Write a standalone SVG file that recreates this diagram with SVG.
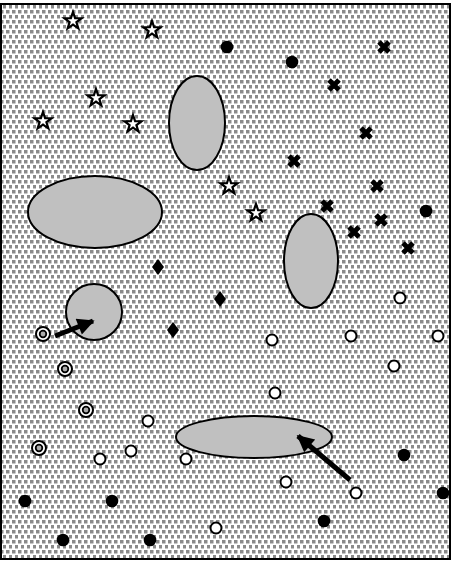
<svg xmlns="http://www.w3.org/2000/svg" width="453" height="561" viewBox="0 0 453 561">
<style>
.blob{fill:#c0c0c0;stroke:#000;stroke-width:2}
.star{fill:#fff;stroke:#000;stroke-width:2.2;stroke-linejoin:miter}
.dot{fill:#000}
.wc{fill:#fff;stroke:#000;stroke-width:2}
.x{stroke:#000;stroke-width:5;stroke-linecap:butt}
.dia{fill:#000}
.ro{fill:#fff;stroke:#000;stroke-width:2}
.ri{fill:#aaa;stroke:#000;stroke-width:1.8}
.arr{stroke:#000;stroke-width:5;fill:none}
</style>
<defs>
<pattern id="bg" width="6" height="10" patternUnits="userSpaceOnUse">
<rect width="6" height="10" fill="#fff"/>
<rect x="0" y="0" width="3.5" height="3.5" fill="#8a8a8a"/>
<rect x="3" y="5" width="3.5" height="3.5" fill="#8a8a8a"/>
</pattern>
<polygon id="st" points="0,-9 2.1,-2.9 8.6,-2.8 3.4,1.1 5.3,7.3 0,3.6 -5.3,7.3 -3.4,1.1 -8.6,-2.8 -2.1,-2.9"/>
<path id="xx" d="M-5,-5L5,5M5,-5L-5,5"/>
<polygon id="dm" points="0,-8 6,0 0,8 -6,0"/>
<marker id="ah" viewBox="0 0 10 10" refX="9" refY="5" markerWidth="19" markerHeight="17" markerUnits="userSpaceOnUse" orient="auto">
<path d="M0,0L10,5L0,10z" fill="#000"/>
</marker>
</defs>
<rect x="1" y="4" width="449" height="555" fill="url(#bg)" stroke="#000" stroke-width="2"/>
<g id="blobs">
<ellipse id="blob1" class="blob" cx="197" cy="123" rx="28" ry="47"/>
<ellipse id="blob2" class="blob" cx="95" cy="212" rx="67" ry="36"/>
<ellipse id="blob3" class="blob" cx="311" cy="261" rx="27" ry="47"/>
<circle id="blob4" class="blob" cx="94" cy="312" r="28"/>
<ellipse id="blob5" class="blob" cx="254" cy="437" rx="78" ry="21"/>
</g>
<g id="stars" class="star">
<use href="#st" x="73" y="21"/>
<use href="#st" x="152" y="30"/>
<use href="#st" x="96" y="98"/>
<use href="#st" x="43" y="121"/>
<use href="#st" x="133" y="124"/>
<use href="#st" x="229" y="186"/>
<use href="#st" x="256" y="213"/>
</g>
<g id="crosses" class="x">
<use href="#xx" x="384" y="47"/>
<use href="#xx" x="334" y="85"/>
<use href="#xx" x="366" y="133"/>
<use href="#xx" x="294" y="161"/>
<use href="#xx" x="377" y="186"/>
<use href="#xx" x="327" y="206"/>
<use href="#xx" x="381" y="220"/>
<use href="#xx" x="354" y="232"/>
<use href="#xx" x="408" y="248"/>
</g>
<g id="diamonds" class="dia">
<use href="#dm" x="158" y="267"/>
<use href="#dm" x="220" y="299"/>
<use href="#dm" x="173" y="330"/>
</g>
<g id="blackdots" class="dot">
<circle cx="227" cy="47" r="6.3"/>
<circle cx="292" cy="62" r="6.3"/>
<circle cx="426" cy="211" r="6.3"/>
<circle cx="404" cy="455" r="6.3"/>
<circle cx="443" cy="493" r="6.3"/>
<circle cx="25" cy="501" r="6.3"/>
<circle cx="112" cy="501" r="6.3"/>
<circle cx="63" cy="540" r="6.3"/>
<circle cx="150" cy="540" r="6.3"/>
<circle cx="324" cy="521" r="6.3"/>
</g>
<g id="whitedots" class="wc">
<circle cx="400" cy="298" r="5.5"/>
<circle cx="272" cy="340" r="5.5"/>
<circle cx="351" cy="336" r="5.5"/>
<circle cx="438" cy="336" r="5.5"/>
<circle cx="394" cy="366" r="5.5"/>
<circle cx="275" cy="393" r="5.5"/>
<circle cx="148" cy="421" r="5.5"/>
<circle cx="131" cy="451" r="5.5"/>
<circle cx="100" cy="459" r="5.5"/>
<circle cx="186" cy="459" r="5.5"/>
<circle cx="286" cy="482" r="5.5"/>
<circle cx="356" cy="493" r="5.5"/>
<circle cx="216" cy="528" r="5.5"/>
</g>
<g id="rings">
<circle class="ro" cx="43" cy="334" r="7"/><circle class="ri" cx="43" cy="334" r="3.3"/>
<circle class="ro" cx="65" cy="369" r="7"/><circle class="ri" cx="65" cy="369" r="3.3"/>
<circle class="ro" cx="86" cy="410" r="7"/><circle class="ri" cx="86" cy="410" r="3.3"/>
<circle class="ro" cx="39" cy="448" r="7"/><circle class="ri" cx="39" cy="448" r="3.3"/>
</g>
<g id="connectors">
<line class="arr" x1="55" y1="336" x2="93" y2="321" marker-end="url(#ah)"/>
<line class="arr" x1="350" y1="480" x2="298" y2="436" marker-end="url(#ah)"/>
</g>
</svg>
